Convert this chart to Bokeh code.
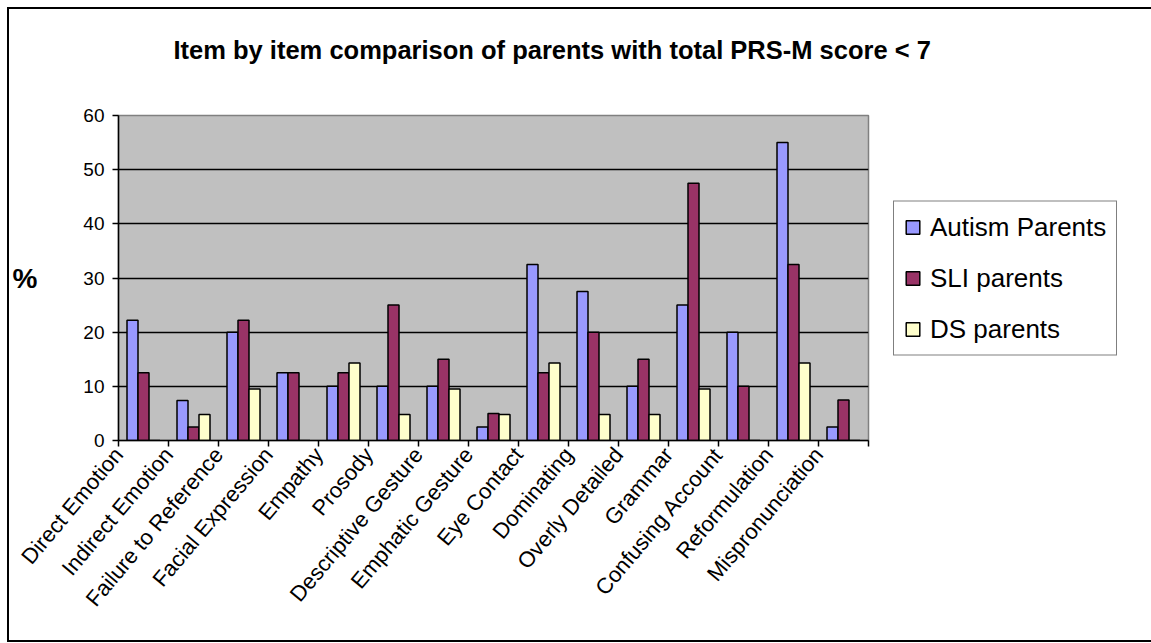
import math
from bokeh.plotting import figure
from bokeh.models import (ColumnDataSource, Range1d, LinearAxis,
                          FixedTicker, Legend, LegendItem, Title)
from bokeh.transform import dodge
from bokeh.embed import file_html
from bokeh.resources import INLINE

title = "Item by item comparison of parents with total PRS-M score < 7"
categories = ["Direct Emotion", "Indirect Emotion", "Failure to Reference",
              "Facial Expression", "Empathy", "Prosody", "Descriptive Gesture",
              "Emphatic Gesture", "Eye Contact", "Dominating", "Overly Detailed",
              "Grammar", "Confusing Account", "Reformulation", "Mispronunciation"]
autism_parents = [22.2, 7.4, 20.0, 12.5, 10.0, 10.0, 10.0, 2.5, 32.5, 27.5, 10.0, 25.0, 20.0, 55.0, 2.5]
sli_parents = [12.5, 2.5, 22.2, 12.5, 12.5, 25.0, 15.0, 5.0, 12.5, 20.0, 15.0, 47.5, 10.0, 32.5, 7.5]
ds_parents = [0.0, 4.8, 9.5, 0.0, 14.3, 4.8, 9.5, 4.8, 14.3, 4.8, 4.8, 9.5, 0.0, 14.3, 0.0]
series_names = ["Autism Parents", "SLI parents", "DS parents"]
y_ticks = [0, 10, 20, 30, 40, 50, 60]

FONT = "Liberation Sans"
n = len(categories)

# category slot i occupies [i, i+1] on the x scale; bars centred in the slot
src = ColumnDataSource(dict(cat=categories, pos=[i + 0.5 for i in range(n)],
                            autism=autism_parents, sli=sli_parents, ds=ds_parents))

p = figure(frame_width=750, frame_height=325,
           x_range=Range1d(0, n),
           y_range=Range1d(0, 60),
           x_axis_location=None,
           output_backend="svg", toolbar_location=None,
           min_border_left=108, min_border_right=281,
           min_border_top=106, min_border_bottom=200,
           styles={"border": "2px solid black", "margin-left": "7px", "margin-top": "7px"})

p.background_fill_color = "#C0C0C0"
p.border_fill_color = "white"
p.outline_line_color = "#808080"
p.outline_line_width = 1.5

# spacer between the title and the plot area
spacer = Title(text=" ", text_font_size="1px", standoff=44)
p.add_layout(spacer, "above")

# title
p.title.text = title
p.title.align = "left"
p.title.offset = 55
p.title.standoff = 10
p.title.text_font = FONT
p.title.text_font_size = "25.5px"
p.title.text_font_style = "bold"
p.title.text_color = "black"

# grids
p.xgrid.visible = False
p.ygrid.ticker = FixedTicker(ticks=y_ticks[1:-1])
p.ygrid.grid_line_color = "black"
p.ygrid.grid_line_width = 1.5

# y axis
ya = p.yaxis[0]
ya.ticker = FixedTicker(ticks=y_ticks)
ya.major_label_text_font = FONT
ya.major_label_text_font_size = "19px"
ya.major_label_text_color = "black"
ya.major_label_standoff = 8
ya.major_tick_out = 6
ya.major_tick_in = 0
ya.minor_tick_out = 0
ya.minor_tick_in = 0
ya.axis_line_color = "black"
ya.axis_line_width = 1.5
ya.major_tick_line_width = 1.5
ya.axis_label = "%"
ya.axis_label_orientation = "horizontal"
ya.axis_label_text_font = FONT
ya.axis_label_text_font_size = "28px"
ya.axis_label_text_font_style = "bold"
ya.axis_label_text_color = "black"
ya.axis_label_standoff = 43

# x axis: ticks at category boundaries, labels rotated
overrides = {i: c for i, c in enumerate(categories)}
overrides[n] = ""
xa = LinearAxis(ticker=FixedTicker(ticks=list(range(n + 1))),
                major_label_overrides=overrides)
xa.major_label_orientation = math.radians(50)
xa.major_label_text_font = FONT
xa.major_label_text_font_size = "22px"
xa.major_label_text_color = "black"
xa.major_label_standoff = 4
xa.major_tick_out = 6
xa.major_tick_in = 0
xa.minor_tick_out = 0
xa.minor_tick_in = 0
xa.axis_line_color = "black"
xa.axis_line_width = 1.5
xa.major_tick_line_width = 1.5
p.add_layout(xa, "below")

# bars
w = 0.22
colors = ["#9999FF", "#993366", "#FFFFCC"]
fields = ["autism", "sli", "ds"]
offsets = [-w, 0.0, w]
renderers = []
for f, c, off in zip(fields, colors, offsets):
    r = p.vbar(x=dodge("pos", off), top=f, width=w, source=src,
               fill_color=c, line_color="black", line_width=1.5)
    renderers.append(r)

legend = Legend(items=[LegendItem(label=nm, renderers=[r]) for nm, r in zip(series_names, renderers)],
                location="center_left")
legend.margin = 25
legend.padding = 10
legend.spacing = 20
legend.glyph_width = 17
legend.glyph_height = 17
legend.label_standoff = 9
legend.label_text_font = FONT
legend.label_text_font_size = "26px"
legend.label_text_color = "black"
legend.border_line_color = "black"
legend.border_line_width = 1.5
legend.background_fill_color = "white"
legend.background_fill_alpha = 1.0
p.add_layout(legend, "right")

open("out.html", "w").write(file_html(p, INLINE))
